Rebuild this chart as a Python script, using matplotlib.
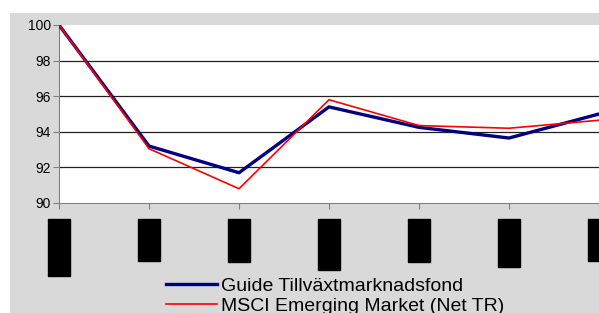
# Guide Tillväxtmarknadsfond vs MSCI Emerging Market, indexerat till 100

import matplotlib
matplotlib.use("Agg")
import matplotlib.pyplot as plt
from matplotlib.patches import Rectangle

# Data
periods = ["dec 2007", "jan-08", "feb-08", "mars 08", "apr-08", "maj 08 ", "jun-08"]
guide = [100.0, 93.2, 91.7, 95.4, 94.25, 93.65, 95.0]
msci = [100.0, 93.05, 90.8, 95.8, 94.35, 94.2, 94.65]
series_names = ["Guide Tillväxtmarknadsfond", "MSCI Emerging Market (Net TR)"]
y_ticks = [90, 92, 94, 96, 98, 100]


def main():
    plt.rcParams["font.family"] = ["Liberation Sans", "DejaVu Sans"]
    W, H = 599, 313
    fig = plt.figure(figsize=(W / 100, H / 100), dpi=100)
    fig.patch.set_facecolor("white")

    # grey chart area background
    fig.patches.append(Rectangle((10 / W, 0), 1, 1 - 13 / H, transform=fig.transFigure,
                                 facecolor="#d9d9d9", edgecolor="none", zorder=-5))

    left, top, bottom = 59, 25, 203
    xmax = 6.2
    width = (599 - left) * xmax / 6
    ax = fig.add_axes([left / W, 1 - bottom / H, width / W, (bottom - top) / H])
    ax.set_facecolor("white")

    x = list(range(len(periods)))
    ax.plot(x, guide, color="#000080", lw=2.4, label=series_names[0], zorder=3)
    ax.plot(x, msci, color="#ff0000", lw=1.2, label=series_names[1], zorder=4)

    ax.set_xlim(0, xmax)
    ax.set_ylim(90, 100)
    ax.set_yticks(y_ticks)
    ax.set_yticklabels([str(v) for v in y_ticks], fontsize=10)
    for v in y_ticks[1:-1]:
        ax.axhline(v, color="#222222", lw=0.9, zorder=1)

    ax.set_xticks(x)
    ax.set_xticklabels(periods, rotation=90, va="top", ha="center", fontsize=8)
    for lab in ax.get_xticklabels():
        lab.set_bbox(dict(facecolor="black", edgecolor="black", pad=4))
        lab.set_color("black")

    for side in ["top", "right"]:
        ax.spines[side].set_visible(False)
    ax.spines["left"].set_color("#808080")
    ax.spines["bottom"].set_color("#808080")
    ax.tick_params(axis="y", length=4, color="#808080", pad=2)
    ax.tick_params(axis="x", length=4, color="#808080", pad=11.5)

    fig.legend(loc="upper left", bbox_to_anchor=(166 / W, 1 - 277 / H),
               frameon=False, fontsize=14, handlelength=2.6,
               handletextpad=0.25, labelspacing=0.15, borderpad=0, borderaxespad=0)

    fig.savefig("out.png", dpi=100)


if __name__ == "__main__":
    main()
